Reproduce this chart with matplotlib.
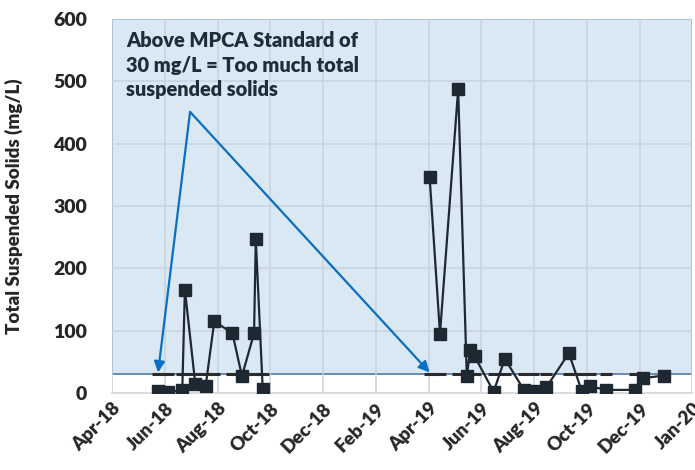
import numpy as np
import pandas as pd
import matplotlib
matplotlib.use("Agg")
import matplotlib.pyplot as plt

# ---------- data ----------
dates_2018 = ["2018-05-24", "2018-06-05", "2018-06-21", "2018-06-24", "2018-07-06",
              "2018-07-18", "2018-07-28", "2018-08-18", "2018-08-29", "2018-09-12",
              "2018-09-14", "2018-09-22"]
tss_2018 = [3, 1, 5, 166, 15, 11, 115, 96, 27, 96, 247, 7]

dates_2019 = ["2019-04-03", "2019-04-15", "2019-05-06", "2019-05-16", "2019-05-20",
              "2019-05-25", "2019-06-16", "2019-06-29", "2019-07-21", "2019-07-31",
              "2019-08-16", "2019-09-11", "2019-09-26", "2019-10-05", "2019-10-24",
              "2019-11-27", "2019-12-06", "2019-12-30"]
tss_2019 = [347, 95, 487, 27, 69, 59, 2, 55, 5, 3, 9, 64, 3, 11, 5, 5, 24, 28]

mpca_standard = 30
tick_labels = ["Apr-18", "Jun-18", "Aug-18", "Oct-18", "Dec-18", "Feb-19",
               "Apr-19", "Jun-19", "Aug-19", "Oct-19", "Dec-19", "Jan-20"]
y_ticks = [0, 100, 200, 300, 400, 500, 600]

note = "Above MPCA Standard of\n30 mg/L = Too much total\nsuspended solids"

# ---------- plot ----------
plt.rcParams["font.family"] = ["Lato", "DejaVu Sans"]

d18 = pd.to_datetime(dates_2018)
d19 = pd.to_datetime(dates_2019)

x0 = pd.Timestamp("2018-04-01")
ticks = [x0 + pd.Timedelta(days=61 * k) for k in range(len(tick_labels))]

fig = plt.figure(figsize=(6.95, 4.70), dpi=100)
ax = fig.add_axes([0.1615, 0.1638, 0.8349, 0.7958])

ax.axhspan(mpca_standard, 600, facecolor="#dae8f3", edgecolor="#5b84b1",
           linewidth=1.3, zorder=0)
ax.set_axisbelow(True)
ax.grid(True, color="#c7d3df", linewidth=1.1)

line_kw = dict(color="#1e2833", linewidth=1.6, marker="s", markersize=8.5,
               markerfacecolor="#1e2833", markeredgecolor="#1e2833", zorder=3)
ax.plot(d18, tss_2018, **line_kw)
ax.plot(d19, tss_2019, **line_kw)

# standard shown as dash markers at every sample date
dash_kw = dict(linestyle="none", marker="_", markersize=8, markeredgewidth=2.2,
               color="#2b2b2b", zorder=2)
ax.plot(d18, [mpca_standard] * len(d18), **dash_kw)
ax.plot(d19, [mpca_standard] * len(d19), **dash_kw)

# annotation with two arrows
apex = (x0 + pd.Timedelta(days=90), 451)
ax.text(x0 + pd.Timedelta(days=16), 580, note, fontsize=14.4, fontweight="heavy",
        color="#1f2d3a", va="top", ha="left", linespacing=1.32)
for tip in (d18[0], d19[0]):
    ax.annotate("", xy=(tip, mpca_standard + 3), xytext=apex,
                arrowprops=dict(arrowstyle="-|>", color="#0a6fc2", lw=1.6,
                                mutation_scale=16, shrinkA=0, shrinkB=0),
                zorder=4)

ax.set_xlim(ticks[0], ticks[-1])
ax.set_ylim(0, 600)
ax.set_xticks(ticks)
ax.set_xticklabels(tick_labels, rotation=45, ha="right", rotation_mode="anchor",
                   fontsize=13.5, fontweight="heavy", color="#262626")
ax.set_yticks(y_ticks)
ax.set_yticklabels([str(v) for v in y_ticks], fontsize=14, fontweight="heavy",
                   color="#262626")
ax.tick_params(axis="both", length=0)
ax.tick_params(axis="x", pad=5)
ax.tick_params(axis="y", pad=18)
ax.set_ylabel("Total Suspended Solids (mg/L)", fontsize=13.5, fontweight="heavy",
              color="#262626", labelpad=22)

for side in ("left", "top", "right"):
    ax.spines[side].set_visible(False)
ax.spines["bottom"].set_color("#d9d9d9")
ax.spines["bottom"].set_linewidth(1.2)

fig.savefig("out.png", dpi=100)
